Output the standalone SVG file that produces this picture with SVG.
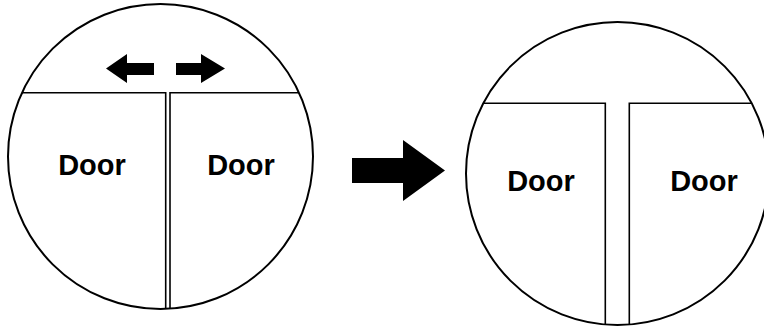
<svg xmlns="http://www.w3.org/2000/svg" width="764" height="329" viewBox="0 0 764 329">
<style>
.ring{fill:#fff;stroke:#000;stroke-width:2}
.door{fill:none;stroke:#000;stroke-width:1.6;stroke-linejoin:miter}
.lbl{font-family:"Liberation Sans",Arial,sans-serif;font-weight:bold;font-size:29px;fill:#000;text-anchor:middle}
.solid{fill:#000;stroke:none}
</style>
<rect width="764" height="329" fill="#fff"/>
<g id="closed-doors">
  <circle class="ring" cx="160.5" cy="156.5" r="152.5"/>
  <polyline class="door" points="22,92.7 165.7,92.7 165.7,309"/>
  <polyline class="door" points="170,309 170,92.7 299,92.7"/>
</g>
<g id="door-left-1"><text class="lbl" x="92" y="175">Door</text></g>
<g id="door-right-1"><text class="lbl" x="241" y="175">Door</text></g>
<g id="slide-arrows">
  <polygon class="solid" points="106,68.5 127,54 127,63 154,63 154,75 127,75 127,83"/>
  <polygon class="solid" points="225,68.5 201,54 201,63 176,63 176,75 201,75 201,83"/>
</g>
<g id="connectors">
  <polygon class="solid" points="445,170.5 403,140 403,158 352,158 352,183 403,183 403,201"/>
</g>
<g id="open-doors">
  <circle class="ring" cx="617.5" cy="173.5" r="151.5"/>
  <polyline class="door" points="483.2,103.3 605.3,103.3 605.3,325"/>
  <polyline class="door" points="629.3,325 629.3,103.3 751.8,103.3"/>
</g>
<g id="door-left-2"><text class="lbl" x="541" y="191">Door</text></g>
<g id="door-right-2"><text class="lbl" x="704" y="191">Door</text></g>
</svg>
